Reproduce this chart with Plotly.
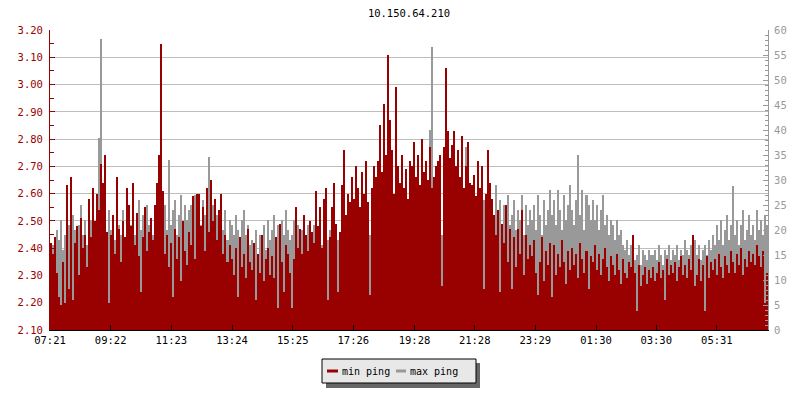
import datetime as dt
import plotly.graph_objects as go

title = "10.150.64.210"
start = dt.datetime(2024, 1, 1, 7, 21)
step_min = 4

# min ping (ms, left axis) - one value per 4 minutes
min_ping = [
    2.42, 2.38, 2.44, 2.31, 2.22, 2.19, 2.35, 2.20, 2.63, 2.25,
    2.66, 2.21, 2.42, 2.48, 2.30, 2.51, 2.40, 2.45, 2.33, 2.58,
    2.44, 2.62, 2.50, 2.60, 2.54, 2.71, 2.64, 2.74, 2.46, 2.20,
    2.45, 2.52, 2.38, 2.66, 2.47, 2.35, 2.50, 2.44, 2.62, 2.56,
    2.48, 2.64, 2.41, 2.53, 2.37, 2.24, 2.44, 2.55, 2.39, 2.46,
    2.51, 2.43, 2.56, 2.64, 2.74, 3.15, 2.61, 2.38, 2.45, 2.33,
    2.42, 2.22, 2.47, 2.36, 2.44, 2.28, 2.50, 2.39, 2.34, 2.46,
    2.41, 2.59, 2.36, 2.60, 2.60, 2.48, 2.55, 2.39, 2.62, 2.46,
    2.65, 2.50, 2.58, 2.43, 2.54, 2.60, 2.38, 2.45, 2.35, 2.41,
    2.36, 2.30, 2.40, 2.22, 2.44, 2.33, 2.38, 2.29, 2.47, 2.35,
    2.32, 2.42, 2.21, 2.38, 2.31, 2.45, 2.28, 2.36, 2.40, 2.30,
    2.37, 2.29, 2.44, 2.18, 2.49, 2.35, 2.24, 2.41, 2.38, 2.31,
    2.18, 2.36, 2.55, 2.40, 2.47, 2.38, 2.52, 2.45, 2.39, 2.50,
    2.46, 2.42, 2.61, 2.48, 2.55, 2.40, 2.58, 2.62, 2.21, 2.44,
    2.55, 2.64, 2.49, 2.24, 2.46, 2.63, 2.76, 2.52, 2.60, 2.57,
    2.66, 2.58, 2.70, 2.62, 2.55, 2.68, 2.60, 2.72, 2.57, 2.23,
    2.62, 2.70, 2.66, 2.72, 2.85, 2.68, 2.93, 2.74, 3.11, 2.87,
    2.76, 2.60, 2.99, 2.70, 2.64, 2.74, 2.62, 2.69, 2.58, 2.72,
    2.70, 2.79, 2.66, 2.74, 2.63, 2.80, 2.68, 2.72, 2.65, 2.77,
    2.62, 2.66, 2.70, 2.72, 2.74, 2.26, 2.77, 3.06, 2.83, 2.73,
    2.78, 2.83, 2.70, 2.76, 2.66, 2.81, 2.62, 2.70, 2.79, 2.64,
    2.63, 2.67, 2.59, 2.72, 2.62, 2.70, 2.25, 2.60, 2.76, 2.64,
    2.58, 2.52, 2.45, 2.54, 2.24, 2.49, 2.42, 2.56, 2.35, 2.47,
    2.25, 2.44, 2.33, 2.47, 2.38, 2.54, 2.30, 2.45, 2.36, 2.41,
    2.37, 2.43, 2.31, 2.23, 2.35, 2.44, 2.28, 2.39, 2.34, 2.42,
    2.22, 2.41, 2.30, 2.38, 2.33, 2.43, 2.35, 2.27, 2.39, 2.32,
    2.40, 2.34, 2.38, 2.29, 2.42, 2.36, 2.31, 2.39, 2.25, 2.37,
    2.35, 2.41, 2.32, 2.38, 2.30, 2.36, 2.40, 2.33, 2.28, 2.37,
    2.34, 2.30, 2.38, 2.32, 2.27, 2.36, 2.31, 2.29, 2.35, 2.33,
    2.45, 2.31, 2.17, 2.34, 2.26, 2.30, 2.33, 2.27, 2.32, 2.29,
    2.33, 2.28, 2.31, 2.35, 2.29, 2.32, 2.21, 2.36, 2.30, 2.34,
    2.31, 2.35, 2.28, 2.33, 2.37, 2.30, 2.34, 2.29, 2.36, 2.32,
    2.45, 2.26, 2.30, 2.36, 2.28, 2.34, 2.17, 2.37, 2.29, 2.35,
    2.32, 2.36, 2.30, 2.38, 2.33, 2.29, 2.37, 2.34, 2.31, 2.39,
    2.35, 2.31, 2.38, 2.34, 2.40, 2.30, 2.36, 2.33, 2.39, 2.35,
    2.38, 2.34, 2.41, 2.37, 2.33, 2.39, 2.20, 2.31,
]

# max ping (ms, right axis)
max_ping = [
    15, 17, 14, 20, 18, 22, 16, 19, 13, 21,
    18, 23, 20, 16, 21, 25, 19, 22, 17, 24,
    22, 26, 20, 24, 38.5, 58.2, 25, 31.6, 19, 24,
    20, 23, 18, 25, 21, 19, 24, 17, 22, 20,
    21, 24, 19, 22, 26, 20, 23, 18, 25, 21,
    22, 19, 24, 20, 23, 18, 21, 25, 20, 34,
    21, 24, 26, 19, 23, 27, 20, 25, 22, 24,
    25, 22, 27, 20, 24, 21, 26, 23, 19, 34.6,
    22, 25, 19, 23, 21, 26, 20, 24, 18, 22,
    21, 19, 23, 20, 18, 22, 24, 19, 21, 17,
    18, 16, 20, 15, 19, 17, 21, 16, 22, 18,
    20, 23, 18, 21, 17, 22, 19, 24, 20, 18,
    19, 22, 17, 21, 18, 20, 23, 16, 21, 19,
    18, 21, 16, 20, 23, 17, 19, 22, 18, 20,
    16, 19, 14, 18, 12, 17, 20, 15, 18, 13,
    17, 15, 19, 14, 18, 16, 20, 13, 17, 19,
    18, 16, 20, 17, 15, 19, 14, 18, 21, 16,
    20, 17, 22, 16, 19, 23, 18, 21, 15, 20,
    19, 16, 21, 18, 24, 17, 20, 22, 26, 40,
    56.6, 28, 21, 18, 23, 19, 25, 17, 22, 20,
    19, 23, 17, 21, 18, 22, 20, 36.6, 19, 21,
    22, 20, 25, 18, 23, 21, 26, 19, 24, 22,
    24, 21, 29, 23, 26, 20, 25, 22, 27, 21,
    23, 26, 20, 24, 22, 27, 19, 25, 21, 24,
    22, 25, 20, 27, 23, 19, 26, 21, 24, 28,
    23, 26, 21, 28, 24, 20, 27, 22, 25, 29,
    24, 21, 26, 35, 23, 28, 20, 27, 25, 22,
    26, 22, 25, 20, 24, 27, 21, 23, 19, 22,
    21, 18, 22, 19, 20, 17, 16, 18, 15, 17,
    16, 14, 15, 17, 13, 16, 15, 14, 16, 15,
    15, 16, 14, 17, 15, 13, 16, 15, 17, 14,
    16, 15, 17, 14, 16, 15, 18, 16, 15, 17,
    16, 18, 15, 17, 14, 16, 17, 15, 18, 16,
    19, 17, 21, 18, 22, 17, 20, 23, 18, 21,
    28.8, 19, 22, 17, 21, 24, 18, 20, 23, 19,
    21, 18, 24, 20, 22, 19, 23, 21,
]

tick_labels = ["07:21", "09:22", "11:23", "13:24", "15:25", "17:26",
               "19:28", "21:28", "23:29", "01:30", "03:30", "05:31"]

RED = "#990000"
GREY = "#999999"
FONT = "DejaVu Sans Mono"
FS = 10.5

times = [start + dt.timedelta(minutes=step_min * i) for i in range(len(min_ping))]
end = start + dt.timedelta(minutes=step_min * len(min_ping))

tick_vals = []
for lab in tick_labels:
    h, m = map(int, lab.split(":"))
    t = start.replace(hour=h, minute=m)
    if t < start:
        t += dt.timedelta(days=1)
    tick_vals.append(t)

# plot area in pixels: x 50..768, y 30..330
L, R, T, B = 50, 768, 30, 330
def px(x):
    return (x - L) / (R - L)
def py(y):
    return (B - y) / (B - T)

fig = go.Figure()
fig.add_trace(go.Bar(x=times, y=max_ping, yaxis="y", name="max ping",
                     width=step_min * 60000, offset=0,
                     marker=dict(color=GREY, line=dict(width=0)), showlegend=False))
fig.add_trace(go.Bar(x=times, y=min_ping, yaxis="y2", name="min ping",
                     width=step_min * 60000, offset=0,
                     marker=dict(color=RED, line=dict(width=0)), showlegend=False))

fig.update_layout(
    width=800, height=400,
    margin=dict(l=L, r=800 - R, t=T, b=400 - B, autoexpand=False),
    paper_bgcolor="white", plot_bgcolor="white",
    barmode="overlay", bargap=0,
    font=dict(family=FONT, size=FS, color="black"),
    title=dict(text=title, x=0.5, xref="paper", xanchor="center",
               y=1 - 13 / 400, yref="container", yanchor="middle",
               font=dict(family=FONT, size=FS, color="black")),
    xaxis=dict(type="date", range=[start, end], tickvals=tick_vals, ticktext=tick_labels,
               ticks="inside", ticklen=5, tickcolor="black", showline=True,
               linecolor="black", linewidth=1, showgrid=False, zeroline=False,
               automargin=False,
               tickfont=dict(family=FONT, size=FS, color="black")),
    yaxis=dict(side="right", range=[0, 60], dtick=5, tick0=0,
               ticks="inside", ticklen=5, tickcolor=GREY, showline=True,
               linecolor=GREY, showgrid=False, zeroline=False, automargin=False,
               ticklabelstandoff=3,
               tickfont=dict(family=FONT, size=FS, color=GREY),
               minor=dict(dtick=1, ticks="inside", ticklen=3, tickcolor=GREY)),
    yaxis2=dict(overlaying="y", side="left", range=[2.10, 3.20], dtick=0.1, tick0=2.1,
                tickformat=".2f", ticks="inside", ticklen=5, tickcolor=RED,
                showline=True, linecolor=RED, showgrid=True, gridcolor="#bdbdbd",
                zeroline=False, automargin=False, ticklabelstandoff=4,
                tickfont=dict(family=FONT, size=FS, color=RED),
                minor=dict(dtick=0.05, ticks="inside", ticklen=4, tickcolor=RED)),
)

# legend box drawn by hand (rrdtool style)
shapes = [
    dict(type="rect", xref="paper", yref="paper", x0=px(326), x1=px(480),
         y0=py(363), y1=py(388), fillcolor="#666666", line=dict(width=0)),
    dict(type="rect", xref="paper", yref="paper", x0=px(322), x1=px(476),
         y0=py(359), y1=py(383), fillcolor="#e8e8e8", line=dict(color="black", width=1)),
    dict(type="line", xref="paper", yref="paper", x0=px(327), x1=px(338),
         y0=py(371), y1=py(371), line=dict(color=RED, width=3)),
    dict(type="line", xref="paper", yref="paper", x0=px(396), x1=px(406),
         y0=py(371), y1=py(371), line=dict(color=GREY, width=3)),
]
annotations = [
    dict(text="min ping", xref="paper", yref="paper", x=px(340), y=py(371),
         xanchor="left", yanchor="middle", showarrow=False,
         font=dict(family=FONT, size=10, color="black")),
    dict(text="max ping", xref="paper", yref="paper", x=px(408), y=py(371),
         xanchor="left", yanchor="middle", showarrow=False,
         font=dict(family=FONT, size=10, color="black")),
]
fig.update_layout(shapes=shapes, annotations=annotations)

# the page body has a default 8px margin; remove it so the figure sits at (0, 0)
fig.write_html("out.html", config={"displayModeBar": False},
               post_script="document.body.style.margin='0px';")
